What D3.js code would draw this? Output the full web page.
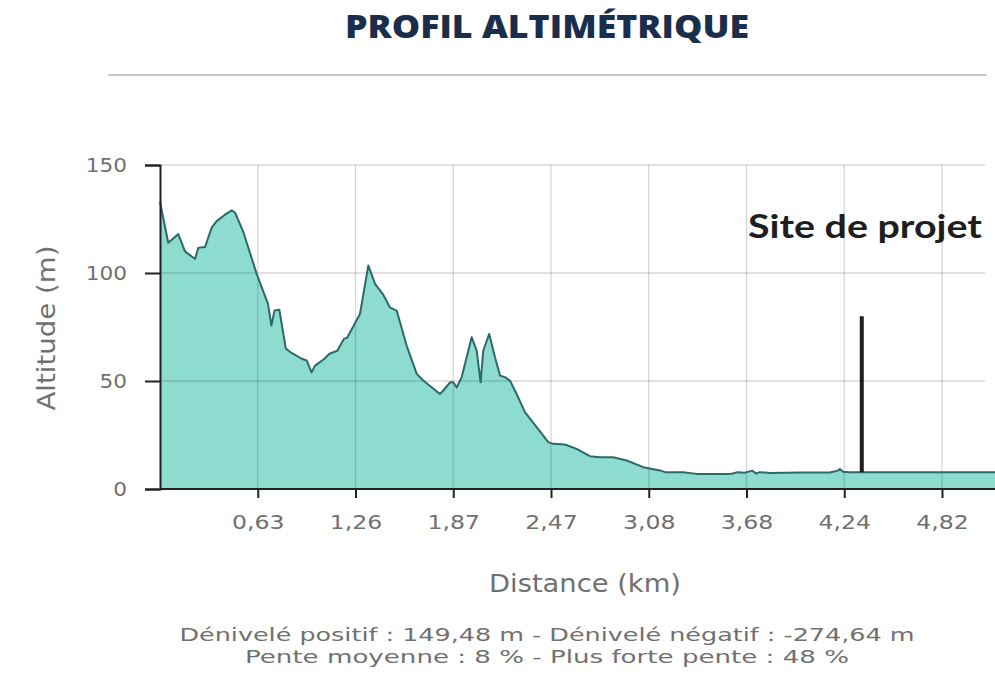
<!DOCTYPE html>
<html>
<head>
<meta charset="utf-8">
<script src="https://cdn.jsdelivr.net/npm/d3@7"></script>
<style>
  html, body { margin: 0; padding: 0; background: #ffffff; }
  svg { display: block; }
</style>
</head>
<body>
<script>
// Elevation profile: distance along the route (km) and altitude (m)
const distanceKm = [0.000, 0.053, 0.118, 0.161, 0.226, 0.247, 0.290, 0.333, 0.365, 0.419,
  0.462, 0.483, 0.537, 0.623, 0.696, 0.718, 0.738, 0.769, 0.811, 0.842,
  0.914, 0.945, 0.977, 0.998, 1.060, 1.092, 1.143, 1.185, 1.206, 1.288,
  1.340, 1.382, 1.433, 1.475, 1.517, 1.579, 1.642, 1.683, 1.787, 1.808,
  1.850, 1.870, 1.891, 1.922, 1.983, 2.014, 2.038, 2.054, 2.091, 2.126,
  2.157, 2.188, 2.218, 2.259, 2.310, 2.382, 2.453, 2.484, 2.557, 2.630,
  2.713, 2.775, 2.858, 2.942, 3.046, 3.149, 3.180, 3.292, 3.374, 3.578,
  3.595, 3.626, 3.669, 3.712, 3.735, 3.757, 3.815, 3.986, 4.158, 4.203,
  4.215, 4.233, 4.274, 4.571, 4.820, 5.164, 5.400];
const altitudeM = [133.0, 114.0, 118.0, 110.0, 106.5, 111.7, 112.0, 121.0, 124.0, 127.0,
  129.0, 128.0, 119.0, 99.6, 85.7, 75.7, 82.6, 83.0, 65.0, 63.3,
  60.3, 59.5, 54.0, 57.0, 60.3, 62.6, 64.0, 69.5, 70.0, 81.0,
  103.5, 95.0, 90.0, 84.0, 82.6, 66.4, 53.3, 50.2, 44.0, 45.6,
  49.4, 49.4, 47.0, 51.8, 70.3, 64.0, 49.4, 64.0, 71.8, 61.0,
  52.5, 51.8, 50.2, 44.0, 35.6, 28.6, 21.7, 20.9, 20.6, 18.6,
  15.2, 14.7, 14.7, 13.2, 10.1, 8.6, 7.8, 7.8, 7.0, 7.0,
  7.2, 7.8, 7.5, 8.5, 7.2, 7.8, 7.4, 7.6, 7.6, 8.5,
  9.3, 8.0, 7.8, 7.8, 7.8, 7.8, 7.8];

// Distance labels shown under the axis (evenly spaced along the axis)
const distanceTicks = [0.63, 1.26, 1.87, 2.47, 3.08, 3.68, 4.24, 4.82];
const altitudeTicks = [0, 50, 100, 150];

// Project site marker
const siteKm = 4.344;
const siteTopM = 80;
const siteBaseM = 7.8;
const siteLabel = "Site de projet";

const titleText = "PROFIL ALTIMÉTRIQUE";
const xTitle = "Distance (km)";
const yTitle = "Altitude (m)";
const summaryLines = [
  "Dénivelé positif : 149,48 m - Dénivelé négatif : -274,64 m",
  "Pente moyenne : 8 % - Plus forte pente : 48 %"
];

const W = 995, H = 674;
const plotLeft = 160, plotTop = 165, plotBottom = 489, step = 97.75;

const svg = d3.select("body").append("svg")
  .attr("width", W).attr("height", H)
  .attr("viewBox", `0 0 ${W} ${H}`);

// Piecewise scale: each labelled distance sits one step further along the axis
const xDomain = [0, ...distanceTicks, 5.40];
const x = d3.scaleLinear()
  .domain(xDomain)
  .range(xDomain.map((d, i) => plotLeft + i * step));
const y = d3.scaleLinear().domain([0, 150]).range([plotBottom, plotTop]);

const grey = "#707070";
const sans = "'DejaVu Sans', Verdana, sans-serif";

// Widen grey labels a little (wide Verdana-like lettering)
function widen(sel, k) {
  sel.each(function () {
    const w = this.getComputedTextLength();
    d3.select(this).attr("textLength", w * k).attr("lengthAdjust", "spacingAndGlyphs");
  });
}

// Title and separator
svg.append("text")
  .attr("x", 547).attr("y", 38)
  .attr("text-anchor", "middle")
  .attr("font-family", "'Open Sans', sans-serif")
  .attr("font-weight", 800)
  .attr("font-size", 31)
  .attr("fill", "#1a2e4c")
  .attr("textLength", 404).attr("lengthAdjust", "spacingAndGlyphs")
  .text(titleText);

svg.append("line")
  .attr("x1", 108).attr("x2", 987).attr("y1", 75).attr("y2", 75)
  .attr("stroke", "#c9c9c9").attr("stroke-width", 2);

// Profile area and outline
const g = svg.append("g");
const pts = distanceKm.map((d, i) => [d, altitudeM[i]]);
const area = d3.area().x(d => x(d[0])).y0(y(0)).y1(d => y(d[1]));
const line = d3.line().x(d => x(d[0])).y(d => y(d[1]));
g.append("path").datum(pts).attr("d", area).attr("fill", "#8ddccf");

// Grid, drawn over the fill so it stays visible through it
g.selectAll("line.hgrid").data(altitudeTicks.filter(d => d > 0)).join("line")
  .attr("class", "hgrid")
  .attr("x1", plotLeft).attr("x2", 985)
  .attr("y1", d => y(d)).attr("y2", d => y(d))
  .attr("stroke", "rgba(0,0,0,0.16)").attr("stroke-width", 1.3);
g.selectAll("line.vgrid").data(distanceTicks).join("line")
  .attr("class", "vgrid")
  .attr("x1", d => x(d)).attr("x2", d => x(d))
  .attr("y1", plotTop).attr("y2", plotBottom)
  .attr("stroke", "rgba(0,0,0,0.16)").attr("stroke-width", 1.3);

g.append("path").datum(pts).attr("d", line)
  .attr("fill", "none").attr("stroke", "#2c6a6a").attr("stroke-width", 2)
  .attr("stroke-linejoin", "round");

// Axes
const yAxis = d3.axisLeft(y).tickValues(altitudeTicks).tickSize(15).tickPadding(18)
  .tickFormat(d3.format("d"));
const yG = svg.append("g").attr("transform", `translate(${plotLeft},0)`).call(yAxis);
yG.select(".domain").attr("stroke", "#222").attr("stroke-width", 2);
yG.selectAll(".tick line").attr("stroke", "#222").attr("stroke-width", 2);
yG.selectAll(".tick text").attr("font-family", sans).attr("font-size", 20).attr("fill", grey)
  .call(widen, 1.08);

const xAxis = d3.axisBottom(x).tickValues(distanceTicks).tickSize(9).tickPadding(17)
  .tickFormat(d => d.toFixed(2).replace(".", ","));
const xG = svg.append("g").attr("transform", `translate(0,${plotBottom})`).call(xAxis);
xG.select(".domain").attr("d", `M${plotLeft},0H${W}`).attr("stroke", "#222").attr("stroke-width", 2);
xG.selectAll(".tick line").attr("stroke", "#222").attr("stroke-width", 2);
xG.selectAll(".tick text").attr("font-family", sans).attr("font-size", 20).attr("fill", grey)
  .call(widen, 1.18);

// Axis titles
svg.append("text")
  .attr("transform", `translate(55,328) rotate(-90)`)
  .attr("text-anchor", "middle")
  .attr("font-family", sans).attr("font-size", 24).attr("fill", grey)
  .attr("textLength", 165).attr("lengthAdjust", "spacingAndGlyphs")
  .text(yTitle);
svg.append("text")
  .attr("x", 585).attr("y", 592)
  .attr("text-anchor", "middle")
  .attr("font-family", sans).attr("font-size", 24).attr("fill", grey)
  .attr("textLength", 192).attr("lengthAdjust", "spacingAndGlyphs")
  .text(xTitle);

// Summary lines
const summaryWidths = [735, 604];
svg.selectAll("text.summary").data(summaryLines).join("text")
  .attr("class", "summary")
  .attr("x", 547).attr("y", (d, i) => 641 + i * 22)
  .attr("text-anchor", "middle")
  .attr("font-family", sans).attr("font-size", 18.5).attr("fill", grey)
  .attr("textLength", (d, i) => summaryWidths[i]).attr("lengthAdjust", "spacingAndGlyphs")
  .text(d => d);

// Project site marker
svg.append("line")
  .attr("x1", x(siteKm)).attr("x2", x(siteKm))
  .attr("y1", y(siteTopM)).attr("y2", y(siteBaseM))
  .attr("stroke", "#1e1e1e").attr("stroke-width", 4);
svg.append("text")
  .attr("x", 748).attr("y", 238)
  .attr("font-family", "'Lato', 'DejaVu Sans', sans-serif")
  .attr("font-weight", 700).attr("font-size", 33).attr("fill", "#1e1e1e")
  .attr("textLength", 234).attr("lengthAdjust", "spacingAndGlyphs")
  .text(siteLabel);
</script>
</body>
</html>
